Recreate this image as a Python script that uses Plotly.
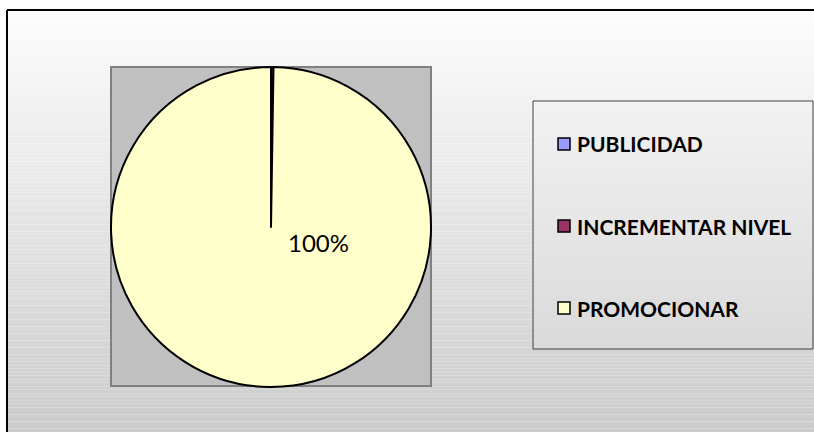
import plotly.graph_objects as go

W, H = 814, 432

labels = ['PUBLICIDAD', 'INCREMENTAR NIVEL', 'PROMOCIONAR']
values = [1, 0, 399]
colors = ['#9999FF', '#993366', '#FFFFCC']
pct_label = '100%'


def px_x(x):
    return x / W


def px_y(y):
    return 1 - y / H


fig = go.Figure()

fig.add_trace(go.Pie(
    labels=labels, values=values,
    marker=dict(colors=colors, line=dict(color='black', width=2)),
    sort=False, direction='clockwise', rotation=0,
    textinfo='none',
    domain=dict(x=[px_x(111), px_x(431)], y=[px_y(387), px_y(67)]),
    showlegend=False, hoverinfo='label+percent'
))

shapes = []
# background gradient of the chart area
n = 120
top, bottom = 10, 432
for i in range(n):
    y0 = top + (bottom - top) * i / n
    y1 = top + (bottom - top) * (i + 1) / n
    g = round(252 - (252 - 204) * i / (n - 1))
    shapes.append(dict(type='rect', xref='paper', yref='paper', layer='below',
                       x0=px_x(7), x1=1, y0=px_y(y1), y1=px_y(y0),
                       fillcolor=f'rgb({g},{g},{g})', line=dict(width=0)))
# outer border (top and left)
shapes.append(dict(type='line', xref='paper', yref='paper', x0=px_x(7), x1=1,
                   y0=px_y(10), y1=px_y(10), line=dict(color='black', width=2)))
shapes.append(dict(type='line', xref='paper', yref='paper', x0=px_x(7), x1=px_x(7),
                   y0=0, y1=px_y(10), line=dict(color='black', width=2)))
# plot area square
shapes.append(dict(type='rect', xref='paper', yref='paper', layer='below',
                   x0=px_x(111), x1=px_x(431), y0=px_y(386), y1=px_y(67),
                   fillcolor='#C0C0C0', line=dict(color='#808080', width=2)))

# legend box
m = 60
for i in range(m):
    y0 = 101 + (349 - 101) * i / m
    y1 = 101 + (349 - 101) * (i + 1) / m
    g = round(242 - (242 - 218) * i / (m - 1))
    shapes.append(dict(type='rect', xref='paper', yref='paper', layer='below',
                       x0=px_x(533), x1=px_x(813), y0=px_y(y1), y1=px_y(y0),
                       fillcolor=f'rgb({g},{g},{g})', line=dict(width=0)))
shapes.append(dict(type='rect', xref='paper', yref='paper',
                   x0=px_x(533), x1=px_x(813), y0=px_y(349), y1=px_y(101),
                   line=dict(color='#404040', width=1)))

annotations = [dict(x=px_x(318), y=px_y(242), xref='paper', yref='paper',
                    text=pct_label, showarrow=False,
                    font=dict(family='Lato', size=24, color='black'))]
for k, (lab, col) in enumerate(zip(labels, colors)):
    cy = 144 + 82 * k
    shapes.append(dict(type='rect', xref='paper', yref='paper',
                       x0=px_x(558), x1=px_x(570), y0=px_y(cy + 6), y1=px_y(cy - 6),
                       fillcolor=col, line=dict(color='black', width=1.5)))
    annotations.append(dict(x=px_x(575), y=px_y(cy), xref='paper', yref='paper',
                            text=f'<b>{lab}</b>', showarrow=False,
                            xanchor='left', yanchor='middle',
                            font=dict(family='Lato', size=21, color='black')))

fig.update_layout(
    width=W, height=H,
    margin=dict(l=0, r=0, t=0, b=0),
    paper_bgcolor='white', plot_bgcolor='white',
    shapes=shapes, annotations=annotations
)

fig.write_html('out.html', config=dict(displayModeBar=False),
               post_script="document.body.style.margin='0';")
